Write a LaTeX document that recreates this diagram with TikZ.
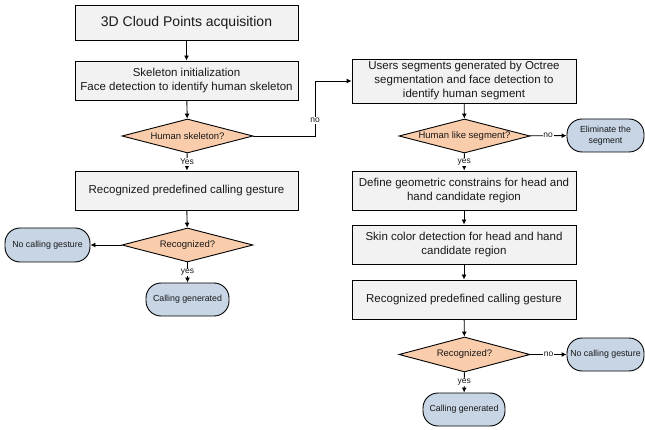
\documentclass[tikz,border=0pt]{standalone}
\usepackage{fontspec}
\setmainfont{Liberation Sans}
\usetikzlibrary{arrows.meta,shapes.geometric}
\newlength{\du}
\setlength{\du}{1pt}
\definecolor{dialinecolor}{rgb}{0.000000, 0.000000, 0.000000}
\definecolor{diatextcolor}{rgb}{0.100000, 0.100000, 0.100000}
\definecolor{diaboxcolor}{rgb}{0.949000, 0.949000, 0.949000}
\definecolor{diadeccolor}{rgb}{0.976000, 0.800000, 0.670000}
\definecolor{diaendcolor}{rgb}{0.780000, 0.835000, 0.898000}
\tikzset{
  stepbox/.style={draw=dialinecolor,fill=diaboxcolor,line width=0.9\du,
    minimum width=223\du,inner sep=0pt,align=center,text=diatextcolor,
    font=\fontsize{11.5}{14.2}\selectfont},
  decision/.style={draw=dialinecolor,fill=diadeccolor,line width=0.9\du,diamond,
    aspect=3.85,minimum width=131\du,minimum height=34\du,inner sep=0pt,
    text=diatextcolor,font=\fontsize{9.5}{11}\selectfont},
  terminal/.style={draw=dialinecolor,fill=diaendcolor,line width=0.9\du,
    rounded corners=15\du,minimum height=33\du,inner sep=0pt,align=center,
    text=diatextcolor,font=\fontsize{8.8}{11}\selectfont},
  flow/.style={draw=dialinecolor,line width=0.9\du,-{Latex[length=5pt,width=5pt]}},
  flowlabel/.style={fill=white,inner sep=0.8\du,text=diatextcolor,
    font=\fontsize{8.5}{9.5}\selectfont},
}
\begin{document}
\begin{tikzpicture}[x=1\du,y=-1\du]
\useasboundingbox (0,0) rectangle (645,430);
% left column
\node[stepbox,minimum height=35\du,font=\fontsize{14}{16}\selectfont] (cloud) at (186.5,22.5) {3D Cloud Points acquisition};
\node[stepbox,minimum height=39\du] (skel) at (186.5,80.5) {Skeleton initialization\\Face detection to identify human skeleton};
\node[decision] (hskel) at (187.5,136) {Human skeleton?};
\node[stepbox,minimum height=39\du] (recogA) at (186.5,190.5) {Recognized predefined calling gesture};
\node[decision] (decA) at (187.5,245) {Recognized?};
\node[terminal,minimum width=85\du,minimum height=34\du] (nocallA) at (47.5,245) {No calling gesture};
\node[terminal,minimum width=83\du] (callA) at (187.5,299.5) {Calling generated};
% right column
\node[stepbox,minimum width=224\du,minimum height=44\du,font=\fontsize{11.5}{14}\selectfont] (users) at (464,81) {Users segments generated by Octree\\segmentation and face detection to\\identify human segment};
\node[decision] (hlike) at (464.5,136) {Human like segment?};
\node[terminal,minimum width=77\du,font=\fontsize{8.8}{11}\selectfont] (elim) at (605.5,135.5) {Eliminate the\\segment};
\node[stepbox,minimum width=224\du,minimum height=39\du] (geom) at (464,190.5) {Define geometric constrains for head and\\hand candidate region};
\node[stepbox,minimum width=224\du,minimum height=39\du] (skin) at (464,244.5) {Skin color detection for head and hand\\candidate region};
\node[stepbox,minimum width=224\du,minimum height=39\du] (recogB) at (464,299.5) {Recognized predefined calling gesture};
\node[decision,minimum height=35\du] (decB) at (464.5,354.5) {Recognized?};
\node[terminal,minimum width=77\du] (nocallB) at (605.5,354.5) {No calling gesture};
\node[terminal,minimum width=82\du] (callB) at (464,409.5) {Calling generated};
\coordinate (bend) at (315,136);
% connectors
\draw[flow] (cloud) -- (skel);
\draw[flow] (skel) -- (hskel);
\draw[flow] (hskel) -- node[flowlabel] {Yes} (recogA);
\draw[flow] (recogA) -- (decA);
\draw[flow] (decA) -- (nocallA);
\draw[flow] (decA) -- node[flowlabel] {yes} (callA);
\draw[flow] (hskel.east) -- (bend) -- node[flowlabel,pos=0.28] {no} (bend |- users.west) -- (users.west);
\draw[flow] (users) -- (hlike);
\draw[flow] (hlike) -- node[flowlabel] {no} (elim);
\draw[flow] (hlike) -- node[flowlabel] {yes} (geom);
\draw[flow] (geom) -- (skin);
\draw[flow] (skin) -- (recogB);
\draw[flow] (recogB) -- (decB);
\draw[flow] (decB) -- node[flowlabel] {no} (nocallB);
\draw[flow] (decB) -- node[flowlabel] {yes} (callB);
\end{tikzpicture}
\end{document}
